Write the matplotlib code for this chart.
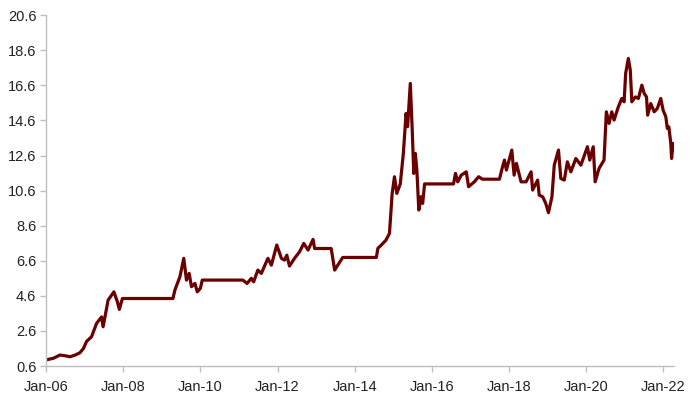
import matplotlib.pyplot as plt

# Time axis in decimal years
YEARS = [2006.00, 2006.20, 2006.36, 2006.54, 2006.62, 2006.75, 2006.88, 2006.97,
         2007.05, 2007.18, 2007.31, 2007.44, 2007.48, 2007.61, 2007.76, 2007.85,
         2007.90, 2007.98, 2009.29, 2009.34, 2009.47, 2009.57, 2009.64, 2009.71,
         2009.77, 2009.86, 2009.92, 2010.00, 2010.05, 2011.10, 2011.21, 2011.32,
         2011.38, 2011.49, 2011.58, 2011.75, 2011.84, 2011.98, 2012.10, 2012.18,
         2012.24, 2012.31, 2012.44, 2012.57, 2012.68, 2012.79, 2012.92, 2012.96,
         2013.39, 2013.48, 2013.56, 2013.69, 2014.56, 2014.60, 2014.69, 2014.81,
         2014.90, 2014.97, 2015.03, 2015.09, 2015.18, 2015.26, 2015.33, 2015.37,
         2015.44, 2015.49, 2015.53, 2015.57, 2015.61, 2015.66, 2015.72, 2015.76,
         2015.81, 2016.56, 2016.61, 2016.67, 2016.76, 2016.89, 2016.95, 2017.10,
         2017.21, 2017.31, 2017.75, 2017.83, 2017.88, 2017.93, 2018.07, 2018.13,
         2018.19, 2018.31, 2018.44, 2018.57, 2018.61, 2018.74, 2018.78, 2018.87,
         2018.95, 2019.02, 2019.11, 2019.17, 2019.28, 2019.34, 2019.43, 2019.51,
         2019.60, 2019.73, 2019.86, 2020.03, 2020.09, 2020.18, 2020.23, 2020.33,
         2020.46, 2020.52, 2020.59, 2020.66, 2020.72, 2020.83, 2020.92, 2020.98,
         2021.02, 2021.09, 2021.14, 2021.18, 2021.27, 2021.35, 2021.44, 2021.50,
         2021.56, 2021.59, 2021.67, 2021.76, 2021.84, 2021.93, 2021.99, 2022.06,
         2022.10, 2022.14, 2022.19, 2022.21, 2022.25, 2022.27]
VALUES = [0.95, 1.05, 1.23, 1.17, 1.13, 1.22, 1.36, 1.60,
          2.00, 2.27, 3.03, 3.40, 2.84, 4.36, 4.83, 4.26,
          3.83, 4.45, 4.45, 4.93, 5.69, 6.74, 5.50, 5.88,
          5.12, 5.31, 4.83, 5.03, 5.50, 5.50, 5.31, 5.60,
          5.40, 6.07, 5.88, 6.74, 6.35, 7.50, 6.74, 6.64,
          6.92, 6.30, 6.74, 7.11, 7.59, 7.21, 7.82, 7.30,
          7.30, 6.07, 6.35, 6.79, 6.79, 7.31, 7.50, 7.78,
          8.16, 10.44, 11.39, 10.44, 10.98, 12.72, 15.00, 14.24,
          16.71, 14.05, 11.58, 12.72, 11.77, 9.49, 10.25, 9.87,
          10.98, 10.98, 11.58, 11.10, 11.48, 11.67, 10.82, 11.10,
          11.39, 11.25, 11.25, 11.96, 12.34, 11.77, 12.91, 11.48,
          12.15, 11.10, 11.10, 11.67, 10.63, 11.20, 10.34, 10.25,
          9.87, 9.34, 10.25, 12.05, 12.91, 11.29, 11.20, 12.24,
          11.67, 12.43, 12.05, 13.10, 12.34, 13.10, 11.10, 11.86,
          12.34, 15.09, 14.43, 15.09, 14.62, 15.37, 15.85, 15.66,
          17.28, 18.13, 17.47, 15.66, 15.94, 15.85, 16.61, 16.14,
          15.94, 14.90, 15.56, 15.09, 15.28, 15.85, 15.19, 14.81,
          14.14, 14.23, 13.29, 12.43, 13.29, 13.00]

X_TICKS = [2006, 2008, 2010, 2012, 2014, 2016, 2018, 2020, 2022]
X_LABELS = ["Jan-06", "Jan-08", "Jan-10", "Jan-12", "Jan-14",
            "Jan-16", "Jan-18", "Jan-20", "Jan-22"]
Y_TICKS = [0.6, 2.6, 4.6, 6.6, 8.6, 10.6, 12.6, 14.6, 16.6, 18.6, 20.6]

plt.rcParams['font.family'] = ['Liberation Sans', 'DejaVu Sans']

fig = plt.figure(figsize=(7, 4.09), dpi=100)
ax = fig.add_axes([0.0657, 0.105, 0.897, 0.858])

ax.plot(YEARS, VALUES, color="#6A0000", linewidth=2.3, solid_joinstyle="round")

ax.set_xlim(2006, 2022.27)
ax.set_ylim(0.6, 20.6)
ax.set_xticks(X_TICKS)
ax.set_xticklabels(X_LABELS)
ax.set_yticks(Y_TICKS)
ax.set_yticklabels([f"{v:.1f}" for v in Y_TICKS])

for side in ["top", "right"]:
    ax.spines[side].set_visible(False)
for side in ["left", "bottom"]:
    ax.spines[side].set_color("#BFBFBF")
    ax.spines[side].set_linewidth(1.0)

ax.tick_params(axis="both", colors="#BFBFBF", length=4, width=1,
               labelsize=10.5, labelcolor="#222222")
ax.tick_params(axis="y", pad=3)
ax.tick_params(axis="x", pad=6)

fig.savefig("out.png", dpi=100)
